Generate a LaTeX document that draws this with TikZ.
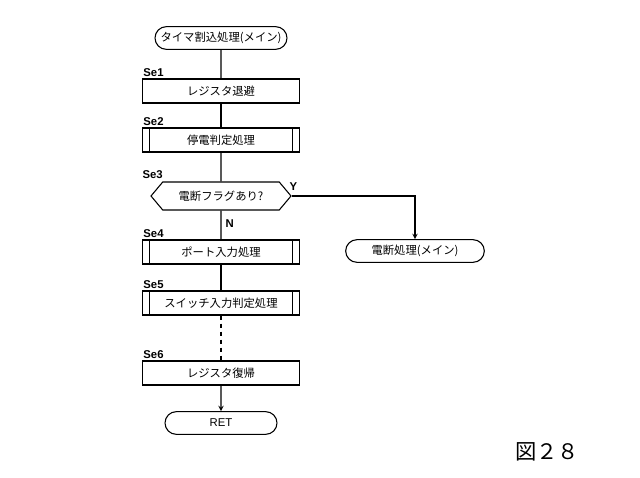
\documentclass[tikz,border=0pt]{standalone}
\usepackage{fontspec}
\newfontfamily\jp{Noto Sans CJK JP}
\setsansfont{Liberation Sans}
\usetikzlibrary{positioning}
\usetikzlibrary{shapes.misc,shapes.symbols}
\tikzset{%
  flowline/.style = {-stealth,thick},
  term/.style = {rounded rectangle,draw,thick,font=\jp\fontsize{8.5}{9}\selectfont,
        minimum height=17pt,inner xsep=1pt},
  proc/.style = {rectangle,draw,thick,font=\jp\fontsize{8.5}{9}\selectfont,
        minimum width=118pt,minimum height=18pt},
  sub/.style = {proc,append after command={
        \pgfextra{\draw[thick] ([xshift=6pt]\tikzlastnode.north west) -- ([xshift=6pt]\tikzlastnode.south west)
        ([xshift=-6pt]\tikzlastnode.north east) -- ([xshift=-6pt]\tikzlastnode.south east);}}},
  dec/.style = {signal,signal to=west and east,draw,thick,font=\jp\fontsize{8.5}{9}\selectfont,
        minimum width=105pt,minimum height=21pt,signal pointer angle=100},
  stepname/.style = {font=\sffamily\bfseries\fontsize{8.5}{9}\selectfont,anchor=south west,inner sep=1pt}
}
\begin{document}
\begin{tikzpicture}[x=0.75pt,y=-0.75pt]
    \useasboundingbox (0,0) rectangle (640,478);
    \node[term,minimum width=101pt] (start) at (221,38) {タイマ割込処理(メイン)};
    \node[proc] (se1) at (221,91) {レジスタ退避};
    \node[sub] (se2) at (221,140) {停電判定処理};
    \node[dec] (se3) at (221,196) {電断フラグあり?};
    \node[sub] (se4) at (221,252) {ポート入力処理};
    \node[sub] (se5) at (221,303) {スイッチ入力判定処理};
    \node[proc] (se6) at (221,373) {レジスタ復帰};
    \node[term,minimum width=86pt] (ret) at (221,423) {\sffamily RET};
    \node[term,minimum width=106pt] (cut) at (415,251) {電断処理(メイン)};
    % step names
    \foreach \n/\t in {se1/Se1,se2/Se2,se4/Se4,se5/Se5,se6/Se6}
        \node[stepname] at (\n.north west) {\t};
    \node[stepname] at (141,180) {Se3};
    \node[stepname,anchor=west] at (288,187) {Y};
    \node[stepname,anchor=west] at (224,224) {N};
    % connectors
    \draw[thick] (start) -- (se1);
    \draw[thick] (se1) -- (se2);
    \draw[thick] (se2) -- (se3);
    \draw[thick] (se3) -- (se4);
    \draw[thick] (se4) -- (se5);
    \draw[thick,dashed] (se5) -- (se6);
    \draw[flowline] (se6) -- (ret);
    \draw[flowline] (se3.east) -| (cut.north);
    \node[font=\jp\fontsize{16}{16}\selectfont] (fig) at (547,452) {図２８};
\end{tikzpicture}
\end{document}
